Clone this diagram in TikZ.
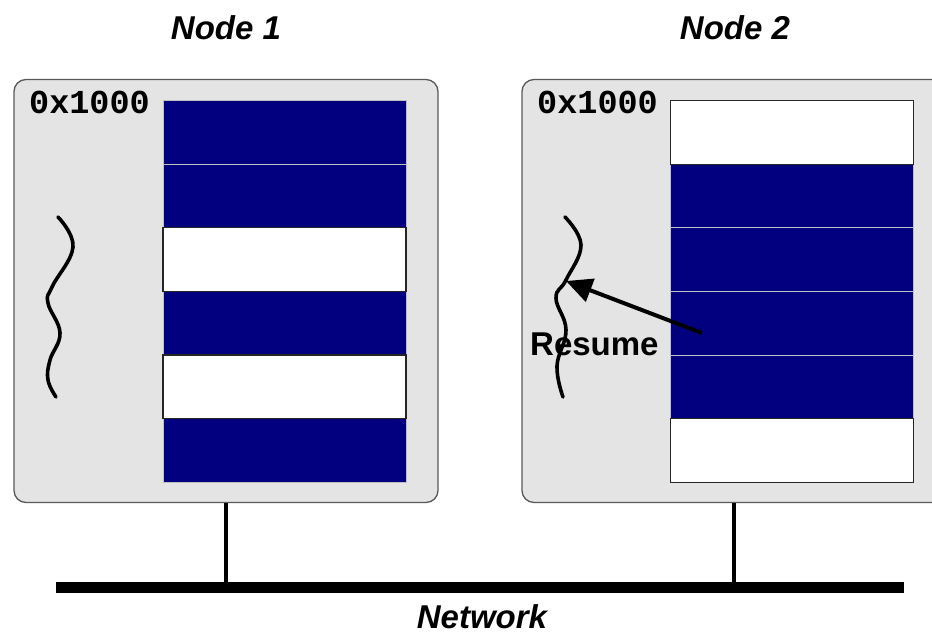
\documentclass[tikz,border=0pt]{standalone}
\usepackage{fontspec}
\setmainfont{Liberation Sans}
\newfontfamily\monofont{Liberation Mono}
\usetikzlibrary{arrows.meta}
\definecolor{memblue}{RGB}{3,0,128}
\definecolor{panelgray}{RGB}{228,228,228}
\tikzset{
  panel/.style={draw=black!65, line width=1.3pt, fill=panelgray, rounded corners=12pt,
    minimum width=424pt, minimum height=423pt, inner sep=0pt},
  usedrow/.style={draw=black!25, line width=0.6pt, fill=memblue,
    minimum width=243pt, minimum height=63.6pt, inner sep=0pt},
  freerow/.style={draw=black!85, line width=1.2pt, fill=white,
    minimum width=243pt, minimum height=63.6pt, inner sep=0pt},
  title/.style={font=\fontsize{33}{36}\selectfont\bfseries\itshape, anchor=base, inner sep=0pt},
  addr/.style={font=\fontsize{33.5}{36}\selectfont\monofont\bfseries, anchor=base west, inner sep=0pt},
  label/.style={font=\fontsize{33}{36}\selectfont\bfseries, anchor=base west, inner sep=0pt},
  thread/.style={line width=3.6pt, line cap=round},
  link/.style={line width=3.2pt},
}
\begin{document}
\begin{tikzpicture}[x=1pt,y=-1pt]
\useasboundingbox (0,0) rectangle (932,637);
\begin{scope}
\clip (0,0) rectangle (932,637);

% machine panels
\node[panel] (box1) at (226,291) {};
\node[panel] (box2) at (734,291) {};

% memory of node 1: used, used, free, used, free, used
\foreach \i/\kind in {0/usedrow,1/usedrow,3/usedrow,5/usedrow,2/freerow,4/freerow}
  \node[\kind] (m1r\i) at (284.5,{132.3+63.6*\i}) {};

% memory of node 2: free, used, used, used, used, free
\foreach \i/\kind in {1/usedrow,2/usedrow,3/usedrow,4/usedrow,0/freerow,5/freerow}
  \node[\kind] (m2r\i) at (792,{132.3+63.6*\i}) {};

% base addresses
\node[addr] (a1) at (29,113) {0x1000};
\node[addr] (a2) at (537,113) {0x1000};

% threads of execution
\draw[thread] plot[smooth, tension=0.7] coordinates
  {(58,217) (73,247) (52,287) (48,303) (60,333) (50,360) (48,380) (56,397)};
\draw[thread] plot[smooth, tension=0.7] coordinates
  {(565,217) (581,245) (566,280) (556,298) (566,330) (557,366) (563,397)};

% migrated thread resumes
\coordinate (resumeat) at (566,281);
\coordinate (resumefrom) at (702,333);
\node[label] (resume) at (530,355) {Resume};
\draw[line width=4pt, -{Triangle[length=26pt,width=24pt]}] (resumefrom) -- (resumeat);

% network
\node[fill=black, minimum width=848pt, minimum height=11pt, inner sep=0pt] (net) at (480,587.5) {};
\draw[link] (box1.south) -- (box1.south |- net.north);
\draw[link] (box2.south) -- (box2.south |- net.north);

% captions
\node[title] (t1) at (226,39) {Node 1};
\node[title] (t2) at (735,39) {Node 2};
\node[title] (tn) at (482,628) {Network};
\end{scope}
\end{tikzpicture}
\end{document}
